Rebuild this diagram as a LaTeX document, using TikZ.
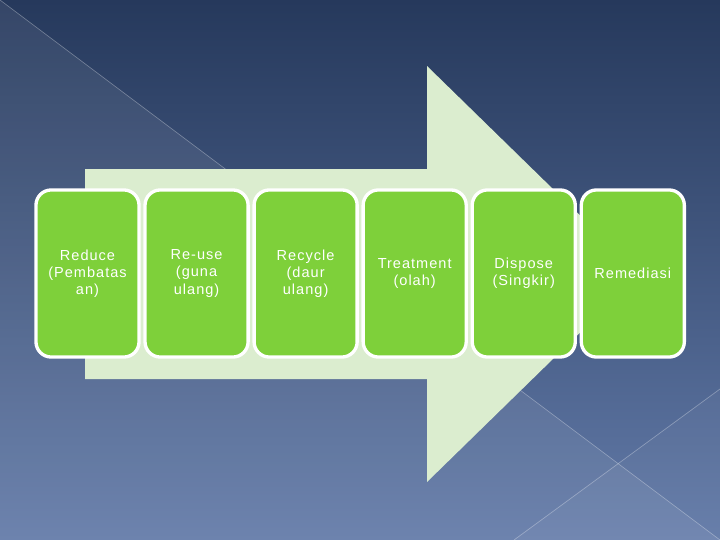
\documentclass[tikz,border=0pt]{standalone}
\usepackage{fontspec}
\usepackage{tikz}
\usetikzlibrary{
  positioning
}
\newfontfamily\slidefont[LetterSpace=7]{Liberation Sans}
\definecolor{slidetop}{RGB}{38,57,92}
\definecolor{slidebottom}{RGB}{98,122,168}
\definecolor{arrowpale}{RGB}{219,237,207}
\definecolor{stagegreen}{RGB}{126,208,58}
\tikzset{
  stagebox/.style={draw=white,line width=2.4pt,fill=stagegreen,
    rounded corners=11pt,align=center,outer sep=0pt,inner sep=2pt,
    minimum width=1.03in,minimum height=1.67in,text=white,
    font=\slidefont\fontsize{10.5}{12.3}\selectfont},
  bigarrow/.style={fill=arrowpale,draw=none},
  bgline/.style={draw=white,opacity=0.3,line width=0.5pt},
  sheen/.style={fill=white,opacity=0.07}
}

\begin{document}
\begin{tikzpicture}[x=0.01in,y=-0.01in,node distance=0.06in]
  \useasboundingbox (0,0) rectangle (720,540);
  % slide background
  \shade[top color=slidetop,bottom color=slidebottom] (0,0) rectangle (720,540);
  \fill[sheen] (0,0)--(720,540)--(0,540)--cycle;
  \fill[sheen,opacity=0.04] (720,389)--(514,540)--(720,540)--cycle;
  \draw[bgline] (0,0)--(720,540);
  \draw[bgline] (720,389)--(514,540);
  % the big arrow
  \fill[bigarrow] (85,169)--(427,169)--(427,66)--(640,274)
    --(427,482)--(427,379)--(85,379)--cycle;
  % stages
  \node[stagebox] (reduce) at (87.5,273.5) {Reduce\\(Pembatas\\an)};
  \node[stagebox,right=of reduce] (reuse) {Re-use\\(guna\\ulang)};
  \node[stagebox,right=of reuse] (recycle) {Recycle\\(daur\\ulang)};
  \node[stagebox,right=of recycle] (treat) {Treatment\\(olah)};
  \node[stagebox,right=of treat] (dispose) {Dispose\\(Singkir)};
  \node[stagebox,right=of dispose] (remed) {Remediasi};
\end{tikzpicture}
\end{document}
